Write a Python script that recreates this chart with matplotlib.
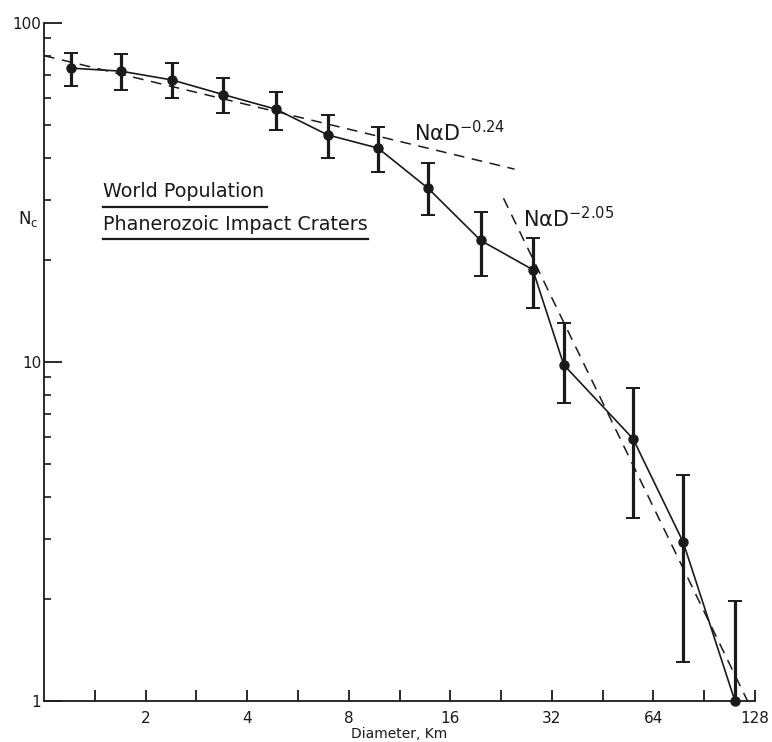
import numpy as np
import matplotlib.pyplot as plt
from matplotlib.ticker import FixedLocator, FixedFormatter, LogLocator, NullFormatter

# crater size-frequency data (half-octave diameter bins)
diameter = np.array([1.20, 1.69, 2.40, 3.40, 4.87, 6.93, 9.77, 13.75, 19.7, 28.1, 34.7, 55.7, 78.4, 111.6])
n_c = np.array([73.5, 72.0, 67.8, 61.4, 55.6, 46.7, 42.7, 32.5, 22.8, 18.7, 9.8, 5.93, 2.94, 1.0])
err_upper = np.array([81.4, 80.9, 76.1, 68.7, 62.6, 53.5, 49.4, 38.6, 27.6, 23.2, 13.0, 8.36, 4.64, 1.97])
err_lower = np.array([65.3, 63.5, 60.0, 54.2, 48.3, 39.9, 36.4, 27.1, 17.9, 14.4, 7.55, 3.46, 1.30, 0.5])  # last one runs off the axis

# power-law fits drawn as dashed lines
fit1_range = np.array([1.0, 24.8])
fit1_coef, fit1_exp = 80.0, -0.24
fit2_range = np.array([23.0, 130.0])
fit2_coef, fit2_exp = 18800.0, -2.05

x_ticks = [2, 4, 8, 16, 32, 64, 128]
x_minor = [2 ** (k / 2) for k in range(1, 15, 2)]

plt.rcParams['font.family'] = ['DejaVu Sans']
plt.rcParams['mathtext.fontset'] = 'dejavusans'

ink = '#1a1a1a'

fig = plt.figure(figsize=(7.72, 7.42), dpi=100)
ax = fig.add_axes([0.057, 0.0553, 0.921, 0.914])
ax.set_xscale('log')
ax.set_yscale('log')
ax.set_xlim(1, 128)
ax.set_ylim(1, 100)

# error bars, then the connected points
ax.errorbar(diameter, n_c, yerr=[n_c - err_lower, err_upper - n_c], fmt='none',
            ecolor=ink, elinewidth=2.3, capsize=5, capthick=1.4)
ax.plot(diameter, n_c, '-', color=ink, lw=1.2, marker='o', ms=6.5,
        mfc=ink, mec=ink, clip_on=False, zorder=5)

# fitted power laws
ax.plot(fit1_range, fit1_coef * fit1_range ** fit1_exp, color=ink, lw=1.1, dashes=(7, 5))
ax.plot(fit2_range, fit2_coef * fit2_range ** fit2_exp, color=ink, lw=1.1, dashes=(7, 5))

ax.text(0.521, 0.825, 'NαD$^{-0.24}$', transform=ax.transAxes, fontsize=15, color=ink)
ax.text(0.674, 0.698, 'NαD$^{-2.05}$', transform=ax.transAxes, fontsize=15, color=ink)

# legend-like title with underlines
ax.text(0.083, 0.743, 'World Population', transform=ax.transAxes, fontsize=13.8, color=ink)
ax.text(0.083, 0.694, 'Phanerozoic Impact Craters', transform=ax.transAxes, fontsize=13.8, color=ink)
ax.plot([0.083, 0.314], [0.728, 0.728], transform=ax.transAxes, color=ink, lw=1.6)
ax.plot([0.083, 0.456], [0.681, 0.681], transform=ax.transAxes, color=ink, lw=1.6)

# spines and ticks
ax.spines['top'].set_visible(False)
ax.spines['right'].set_visible(False)
for s in ('left', 'bottom'):
    ax.spines[s].set_color(ink)
    ax.spines[s].set_linewidth(1.3)

ax.xaxis.set_major_locator(FixedLocator(x_ticks))
ax.xaxis.set_major_formatter(FixedFormatter([str(t) for t in x_ticks]))
ax.xaxis.set_minor_locator(FixedLocator(x_minor))
ax.xaxis.set_minor_formatter(NullFormatter())
ax.tick_params(axis='x', which='both', direction='in', length=8, width=1.3, colors=ink,
               labelsize=11, pad=7)

ax.yaxis.set_major_locator(FixedLocator([1, 10, 100]))
ax.yaxis.set_major_formatter(FixedFormatter(['1', '10', '100']))
ax.yaxis.set_minor_locator(LogLocator(base=10, subs=np.arange(2, 10)))
ax.yaxis.set_minor_formatter(NullFormatter())
ax.tick_params(axis='y', which='major', direction='in', length=13, width=1.3, colors=ink,
               labelsize=11, pad=2)
ax.tick_params(axis='y', which='minor', direction='in', length=5, width=1.2, colors=ink)

ax.set_xlabel('Diameter, Km', fontsize=10, color=ink, labelpad=1)
fig.text(0.023, 0.698, r'N$_\mathregular{c}$', fontsize=12, color=ink)

fig.savefig('out.png', dpi=100)
